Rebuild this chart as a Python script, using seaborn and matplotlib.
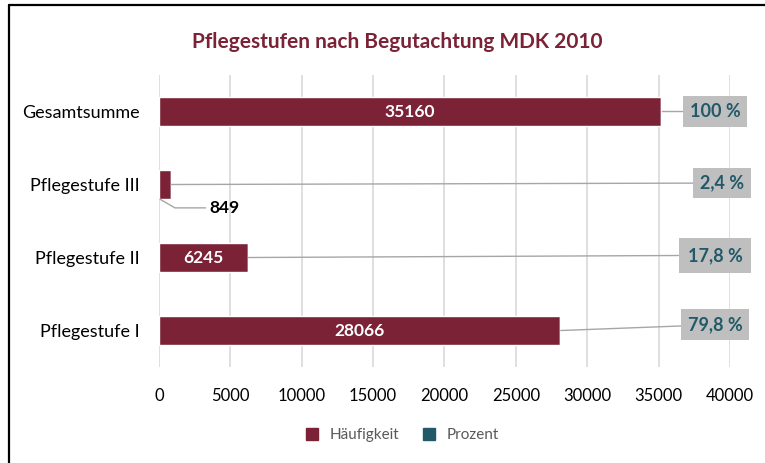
import matplotlib
matplotlib.use("Agg")
import matplotlib.pyplot as plt
import seaborn as sns
import pandas as pd
from matplotlib.lines import Line2D

# chart data
categories = ["Gesamtsumme", "Pflegestufe III", "Pflegestufe II", "Pflegestufe I"]
haeufigkeit = [35160, 849, 6245, 28066]
prozent = [100, 2.4, 17.8, 79.8]
prozent_labels = ["100 %", "2,4 %", "17,8 %", "79,8 %"]
x_ticks = [0, 5000, 10000, 15000, 20000, 25000, 30000, 35000, 40000]

maroon = "#7B2236"
teal = "#215968"
box_grey = "#BFBFBF"

sns.set_theme(style="white")
plt.rcParams["font.family"] = ["Lato", "DejaVu Sans"]

df = pd.DataFrame({"Kategorie": categories, "Häufigkeit": haeufigkeit, "Prozent": prozent})

fig = plt.figure(figsize=(7.65, 4.63), dpi=100)
ax = fig.add_axes([0.2078, 0.2073, 0.7464, 0.6307])

sns.barplot(data=df, x="Häufigkeit", y="Kategorie", orient="h", color=maroon,
            width=0.4, saturation=1, ax=ax, zorder=3)
# Prozent stacked on top of Häufigkeit (tiny sliver)
ax.barh(range(len(categories)), df["Prozent"], left=df["Häufigkeit"], height=0.4,
        color=teal, zorder=3)

ax.set_xlim(0, 40000)
ax.set_ylim(3.5, -0.5)
ax.set_xticks(x_ticks)
ax.set_xticklabels([str(t) for t in x_ticks], fontsize=12, color="black")
ax.tick_params(axis="x", length=0, pad=15)
ax.tick_params(axis="y", length=0, pad=14, labelsize=13, labelcolor="black")
ax.set_xlabel("")
ax.set_ylabel("")
ax.grid(axis="x", color="#D9D9D9", linewidth=1.2, zorder=0)
ax.grid(axis="y", visible=False)
for s in ax.spines.values():
    s.set_visible(False)

# value labels inside bars
for i, v in enumerate(haeufigkeit):
    if v > 3000:
        ax.text(v / 2, i, str(v), ha="center", va="center", color="white",
                fontsize=12.5, fontweight="bold", zorder=4)

# 849 sits outside with a leader line
ax.annotate(str(haeufigkeit[1]), xy=(60, 1.2), xytext=(3500, 1.32),
            ha="left", va="center", fontsize=12.5, fontweight="bold", color="black",
            arrowprops=dict(arrowstyle="-", color="#A6A6A6", lw=1,
                            connectionstyle="angle,angleA=0,angleB=-30,rad=0",
                            shrinkA=0, shrinkB=0), zorder=4)

# percent labels in grey boxes with leader lines
label_x = [38950, 39450, 38950, 38950]
label_y = [0.0, -0.02, -0.03, -0.08]
label_pad = [0.38, 0.38, 0.5, 0.38]
for i, (lab, h, p) in enumerate(zip(prozent_labels, haeufigkeit, prozent)):
    ax.annotate(lab, xy=(h + p, i), xytext=(label_x[i], i + label_y[i]),
                ha="center", va="center", fontsize=13, fontweight="bold", color=teal,
                bbox=dict(boxstyle=f"square,pad={label_pad[i]}", fc=box_grey, ec="none"),
                arrowprops=dict(arrowstyle="-", color="#A6A6A6", lw=1,
                                shrinkA=0, shrinkB=0), zorder=5, annotation_clip=False)

fig.suptitle("Pflegestufen nach Begutachtung MDK 2010", x=0.519, y=0.93,
             fontsize=15, fontweight="bold", color=maroon)

handles = [Line2D([], [], marker="s", linestyle="none", markersize=8, color=maroon),
           Line2D([], [], marker="s", linestyle="none", markersize=8, color=teal)]
fig.legend(handles, ["Häufigkeit", "Prozent"], loc="center", ncol=2,
           bbox_to_anchor=(0.52, 0.06), frameon=False, fontsize=11,
           labelcolor="#595959", handletextpad=0.1, columnspacing=1.0)

# partial outer frame (left and top edges)
fig.add_artist(Line2D([9 / 765, 9 / 765], [0, 1 - 5 / 463], color="black", lw=1.6,
                      transform=fig.transFigure))
fig.add_artist(Line2D([9 / 765, 1], [1 - 5 / 463, 1 - 5 / 463], color="black", lw=1.6,
                      transform=fig.transFigure))

fig.savefig("out.png", dpi=100)
